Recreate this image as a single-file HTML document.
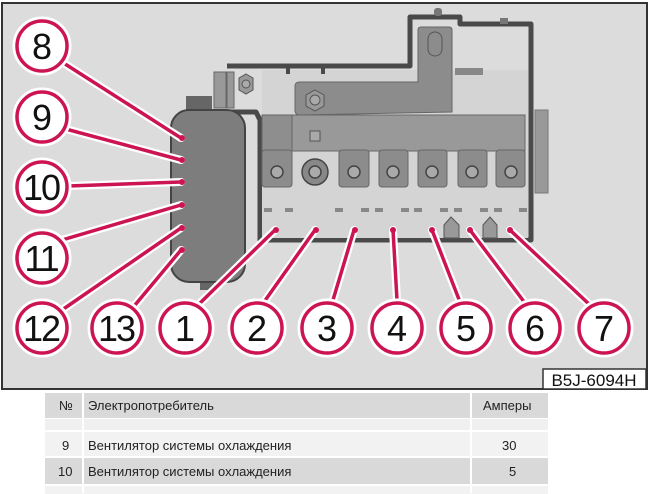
<!DOCTYPE html>
<html><head><meta charset="utf-8"><style>
body{margin:0;width:650px;height:490px;background:#fff;overflow:hidden;font-family:"Liberation Sans",sans-serif}
svg{position:absolute;left:0;top:0}
.tbl{position:absolute;left:45px;top:393px;width:503px;font-family:"Liberation Sans",sans-serif;font-size:13px;color:#222}
.r{position:absolute;left:0;width:503px}
.c{position:absolute;top:0}
</style></head><body>
<svg width="650" height="392" viewBox="0 0 650 392">
<rect x="2" y="3" width="645" height="386" fill="#dcdcdc" stroke="#333" stroke-width="2"/>
<g stroke="#4a4a4a" stroke-width="5" fill="none" stroke-linejoin="round">
<path d="M227 66 L410 66 L410 17 L460 17 L460 24 L531 24 L531 240 L260 240 L260 120 L256 112 L228 112"/>
</g>
<rect x="262" y="70" width="266" height="168" fill="#d4d4d4"/>
<rect x="434" y="8" width="8" height="8" rx="3" fill="#777"/>
<rect x="500" y="18" width="8" height="6" fill="#777"/>
<rect x="286" y="66" width="4" height="8" fill="#4a4a4a"/><rect x="321" y="66" width="4" height="8" fill="#4a4a4a"/>
<path d="M418 30 Q418 27 421 27 L449 27 Q452 27 452 30 L452 112 L300 115 Q295 115 295 110 L295 86 Q295 82 300 82 L418 82 Z" fill="#8c8c8c" stroke="#666" stroke-width="1"/>
<rect x="428" y="32" width="14" height="24" rx="7" fill="#8c8c8c" stroke="#555"/>
<rect x="455" y="68" width="28" height="7" fill="#888"/>
<rect x="214" y="72" width="12" height="36" fill="#999" stroke="#666"/>
<rect x="227" y="72" width="7" height="36" fill="#999" stroke="#666"/>
<polygon points="246,74 253,78 253,90 246,94 239,90 239,78" fill="#999" stroke="#555"/><circle cx="246" cy="84" r="4" fill="#aaa" stroke="#555"/>
<polygon points="315,90 324,95 324,106 315,111 306,106 306,95" fill="#999" stroke="#555"/><circle cx="315" cy="100" r="5" fill="#aaa" stroke="#555"/>
<rect x="262" y="115" width="263" height="36" fill="#999" stroke="#666"/>
<rect x="262" y="115" width="30" height="36" fill="#8e8e8e" stroke="#666"/>
<rect x="310" y="131" width="10" height="10" fill="#aaa" stroke="#555"/>
<g fill="#8c8c8c" stroke="#666">
<rect x="262" y="150" width="30" height="37" rx="3"/>
<rect x="339" y="150" width="30" height="37" rx="3"/>
<rect x="379" y="150" width="29" height="37" rx="3"/>
<rect x="418" y="150" width="29" height="37" rx="3"/>
<rect x="458" y="150" width="29" height="37" rx="3"/>
<rect x="496" y="150" width="29" height="37" rx="3"/>
</g>
<g fill="#aaa" stroke="#444" stroke-width="1.5">
<circle cx="277" cy="172" r="6"/><circle cx="354" cy="172" r="6"/><circle cx="393" cy="172" r="6"/><circle cx="432" cy="172" r="6"/><circle cx="472" cy="172" r="6"/><circle cx="511" cy="172" r="6"/>
<circle cx="315" cy="172" r="13" fill="#888"/><circle cx="315" cy="172" r="6"/>
</g>
<rect x="535" y="110" width="13" height="83" fill="#999" stroke="#777"/>
<g fill="#888"><rect x="264" y="208" width="8" height="4"/><rect x="285" y="208" width="8" height="4"/><rect x="335" y="208" width="8" height="4"/><rect x="361" y="208" width="8" height="4"/><rect x="375" y="208" width="8" height="4"/><rect x="401" y="208" width="8" height="4"/><rect x="414" y="208" width="8" height="4"/><rect x="440" y="208" width="8" height="4"/><rect x="454" y="208" width="8" height="4"/><rect x="480" y="208" width="8" height="4"/><rect x="494" y="208" width="8" height="4"/><rect x="519" y="208" width="8" height="4"/></g>
<polygon points="444,238 444,225 451,217 459,225 459,238" fill="#999" stroke="#555"/>
<polygon points="483,238 483,225 490,217 497,225 497,238" fill="#999" stroke="#555"/>
<rect x="186" y="96" width="26" height="16" fill="#666"/>
<rect x="200" y="270" width="14" height="20" fill="#666"/>
<rect x="171" y="110" width="74" height="172" rx="18" fill="#7d7d7d" stroke="#444" stroke-width="2"/>
<g stroke-linecap="round" fill="none">
<g stroke="#fff" stroke-width="8">
<path d="M62 62L181 138M62 128L181 160M68 186L181 182M62 240L181 205M62 310L181 228M135 305L181 250M197 306L275 230M264 302L315 230M333 300L354 230M397 300L393 230M460 302L432 230M525 303L470 230M590 305L510 230"/></g>
<g stroke="#cc1452" stroke-width="3.5">
<path d="M62 62L181 138M62 128L181 160M68 186L181 182M62 240L181 205M62 310L181 228M135 305L181 250M197 306L275 230M264 302L315 230M333 300L354 230M397 300L393 230M460 302L432 230M525 303L470 230M590 305L510 230"/></g>
</g>
<g fill="#cc1452"><circle cx="182" cy="138" r="3"/><circle cx="182" cy="160" r="3"/><circle cx="182" cy="182" r="3"/><circle cx="182" cy="205" r="3"/><circle cx="182" cy="228" r="3"/><circle cx="182" cy="250" r="3"/><circle cx="276" cy="230" r="3"/><circle cx="316" cy="230" r="3"/><circle cx="355" cy="230" r="3"/><circle cx="393" cy="230" r="3"/><circle cx="432" cy="230" r="3"/><circle cx="470" cy="230" r="3"/><circle cx="510" cy="230" r="3"/></g>
<g font-family="Liberation Sans,sans-serif" font-size="36" text-anchor="middle" fill="#111">
<g stroke="#fff" stroke-width="9" fill="#fff">
<circle cx="42" cy="46" r="25"/><circle cx="42" cy="117" r="25"/><circle cx="42" cy="187" r="25"/><circle cx="42" cy="258" r="25"/><circle cx="42" cy="328" r="25"/><circle cx="117" cy="328" r="25"/><circle cx="185" cy="328" r="25"/><circle cx="257" cy="328" r="25"/><circle cx="327" cy="328" r="25"/><circle cx="397" cy="328" r="25"/><circle cx="466" cy="328" r="25"/><circle cx="535" cy="328" r="25"/><circle cx="604" cy="328" r="25"/></g>
<g stroke="#cc1452" stroke-width="3.5" fill="#fff">
<circle cx="42" cy="46" r="25"/><circle cx="42" cy="117" r="25"/><circle cx="42" cy="187" r="25"/><circle cx="42" cy="258" r="25"/><circle cx="42" cy="328" r="25"/><circle cx="117" cy="328" r="25"/><circle cx="185" cy="328" r="25"/><circle cx="257" cy="328" r="25"/><circle cx="327" cy="328" r="25"/><circle cx="397" cy="328" r="25"/><circle cx="466" cy="328" r="25"/><circle cx="535" cy="328" r="25"/><circle cx="604" cy="328" r="25"/></g>
<text x="42" y="59">8</text><text x="42" y="130">9</text><text x="41" y="200" letter-spacing="-2">10</text><text x="41" y="271" letter-spacing="-2">11</text><text x="41" y="341" letter-spacing="-2">12</text><text x="116" y="341" letter-spacing="-2">13</text><text x="185" y="341">1</text><text x="257" y="341">2</text><text x="327" y="341">3</text><text x="397" y="341">4</text><text x="466" y="341">5</text><text x="535" y="341">6</text><text x="604" y="341">7</text>
</g>
<rect x="543" y="369" width="103" height="20" fill="#fff" stroke="#333" stroke-width="1.5"/>
<text x="594" y="386" font-family="Liberation Sans,sans-serif" font-size="17" text-anchor="middle" fill="#111">B5J-6094H</text>
</svg>
<div class="tbl">
<div class="r" style="top:0;height:25px;background:#d9d9d9"><span class="c" style="left:14px;top:5px">№</span><span class="c" style="left:43px;top:5px">Электропотребитель</span><span class="c" style="left:438px;top:5px">Амперы</span></div>
<div class="r" style="top:25px;height:12px;background:#f0f0f0;border-top:1px solid #fff"></div>
<div class="r" style="top:37px;height:26px;background:#f2f2f2;border-top:2px solid #fff"><span class="c" style="left:17px;top:6px">9</span><span class="c" style="left:43px;top:6px">Вентилятор системы охлаждения</span><span class="c" style="left:457px;top:6px">30</span></div>
<div class="r" style="top:63px;height:26px;background:#d9d9d9;border-top:2px solid #fff"><span class="c" style="left:13px;top:6px">10</span><span class="c" style="left:43px;top:6px">Вентилятор системы охлаждения</span><span class="c" style="left:464px;top:6px">5</span></div>
<div class="r" style="top:91px;height:8px;background:#f2f2f2;border-top:2px solid #fff"></div>
<div style="position:absolute;left:37px;top:0;width:2px;height:100px;background:#fff"></div>
<div style="position:absolute;left:425px;top:0;width:2px;height:100px;background:#fff"></div>
</div>
</body></html>
